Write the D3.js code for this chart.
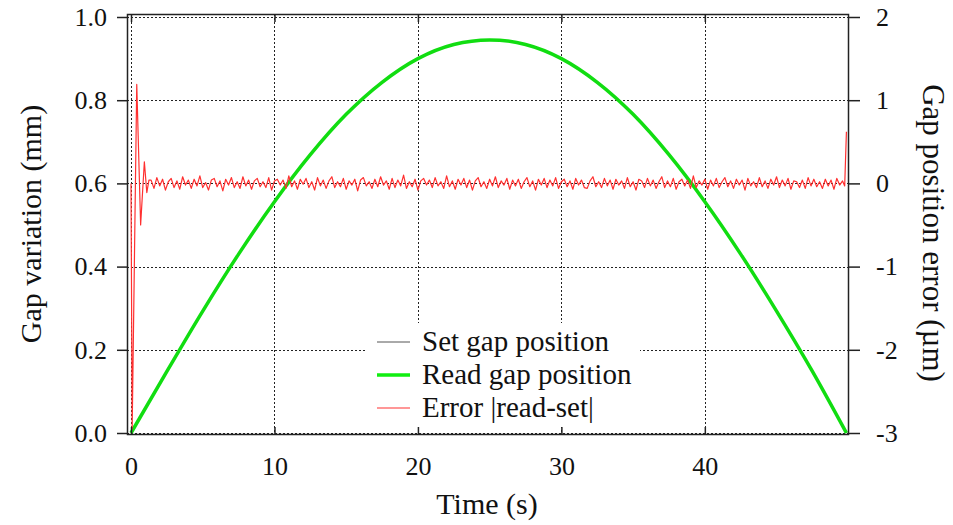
<!DOCTYPE html>
<html>
<head>
<meta charset="utf-8">
<script src="https://cdn.jsdelivr.net/npm/d3@7"></script>
<style>
  body { margin: 0; background: #fff; }
  svg text { font-family: "Liberation Serif", "Times New Roman", Tinos, "DejaVu Serif", "Noto Serif", serif; fill: #111; }
</style>
</head>
<body>
<div class="container"></div>
<script>
// gap position (s, mm)
var gapTime = [0, 2.5, 5, 7.5, 10, 12.5, 15, 17.5, 20, 22.5, 25, 27.5, 30, 32.5, 35, 37.5, 40, 42.5, 45, 47.5, 49.87];
var setGap  = [0, 0.148, 0.293, 0.430, 0.556, 0.669, 0.766, 0.843, 0.900, 0.934, 0.945, 0.934, 0.900, 0.843, 0.766, 0.669, 0.556, 0.430, 0.293, 0.148, 0];
var readGap = [0, 0.148, 0.293, 0.430, 0.556, 0.669, 0.766, 0.843, 0.900, 0.934, 0.945, 0.934, 0.900, 0.843, 0.766, 0.669, 0.556, 0.430, 0.293, 0.148, 0];

// error (µm): start-up transient, then the ripple sampled every 0.2 s from 1.4 s, then the end jump
var errStart = [[0, 0], [0.08, -2.95], [0.4, 1.19], [0.67, -0.5], [0.93, 0.26], [1.1, -0.11], [1.25, 0.04]];
var errT0 = 1.4, errStep = 0.2;
var errRipple = [
  0.04,-0.06,0.07,-0.03,0.05,-0.08,0.02,0.06,-0.05,0.03,
  -0.07,0.08,-0.02,0.04,-0.06,0.05,-0.03,0.09,-0.05,0.01,
  -0.08,0.04,0.06,-0.04,0.03,-0.09,0.05,-0.02,0.07,-0.05,
  0.02,-0.06,0.08,-0.03,0.04,-0.07,0.03,0.06,-0.04,0.02,
  -0.05,0.07,-0.08,0.03,0.05,-0.02,0.04,-0.06,0.09,-0.04,
  0.03,-0.07,0.05,-0.01,0.06,-0.05,0.02,-0.08,0.07,-0.03,
  0.04,-0.06,0.03,0.08,-0.05,0.02,-0.04,0.06,-0.07,0.03,
  -0.02,0.05,-0.09,0.04,0.07,-0.03,0.02,-0.06,0.05,-0.04,
  0.08,-0.02,0.03,-0.07,0.06,-0.05,0.04,-0.03,0.10,-0.06,
  0.02,-0.04,0.05,-0.08,0.03,0.06,-0.02,0.04,-0.05,0.07,
  -0.03,0.02,-0.06,0.09,-0.04,0.03,-0.07,0.05,-0.02,0.06,
  -0.05,0.04,-0.08,0.03,0.07,-0.04,0.02,-0.06,0.05,-0.03,
  0.08,-0.05,0.03,-0.02,0.06,-0.07,0.04,-0.03,0.05,-0.06,
  0.02,0.07,-0.04,0.03,-0.08,0.05,-0.02,0.06,-0.05,0.04,
  -0.03,0.07,-0.06,0.02,0.05,-0.04,0.03,-0.07,0.06,-0.02,
  0.04,-0.05,-0.06,0.03,0.08,-0.04,0.02,-0.05,0.06,-0.03,
  0.04,-0.07,0.05,-0.02,0.03,-0.06,0.07,-0.04,0.02,-0.08,
  0.05,0.03,-0.05,0.06,-0.03,0.04,-0.06,0.02,0.08,-0.05,
  0.03,-0.04,0.06,-0.07,0.02,0.05,-0.03,0.04,-0.06,0.09,
  -0.05,0.03,-0.02,0.05,-0.07,0.04,-0.03,0.06,-0.05,0.02,
  0.07,-0.04,0.03,-0.06,0.05,-0.02,0.04,-0.08,0.06,-0.03,
  0.02,-0.05,0.07,-0.04,0.03,-0.06,0.05,-0.02,0.08,-0.05,
  0.04,-0.03,0.06,-0.07,0.03,0.02,-0.05,0.04,-0.06,0.07,
  -0.03,0.05,-0.04,0.02,-0.06,0.05,-0.03,0.04,-0.07,0.06,
  -0.02,0.03
];
var errEnd = [[49.75, -0.03], [49.87, 0.62]];

var timeTicks = [0, 10, 20, 30, 40];
var gapTicks = [0, 0.2, 0.4, 0.6, 0.8, 1.0];
var errTicks = [-3, -2, -1, 0, 1, 2];
var legendItems = ["Set gap position", "Read gap position", "Error |read-set|"];

var W = 953, H = 525;
var L = 127, R = 849, T = 14, B = 435;
var serif = "'Liberation Serif', 'Times New Roman', Tinos, 'DejaVu Serif', 'Noto Serif', serif";

var svg = d3.select(".container").append("svg")
  .attr("width", W).attr("height", H);

var x = d3.scaleLinear().domain([-0.28, 50.05]).range([L, R]);
var yL = d3.scaleLinear().domain([0, 1]).range([433, 17]);
var yR = d3.scaleLinear().domain([-3, 2]).range([433, 17]);

// grid
var grid = svg.append("g")
  .attr("stroke", "#222").attr("stroke-width", 1).attr("stroke-dasharray", "2,2");
grid.selectAll(".vg").data(timeTicks).enter().append("line")
  .attr("x1", function(d) { return Math.round(x(d)) + 0.5; })
  .attr("x2", function(d) { return Math.round(x(d)) + 0.5; })
  .attr("y1", T).attr("y2", B);
grid.selectAll(".hg").data(gapTicks).enter().append("line")
  .attr("x1", L).attr("x2", R)
  .attr("y1", function(d) { return Math.round(yL(d)) + 0.5; })
  .attr("y2", function(d) { return Math.round(yL(d)) + 0.5; });

// error series
var errData = errStart.slice();
errRipple.forEach(function(v, i) { errData.push([errT0 + i * errStep, v]); });
errData = errData.concat(errEnd);

var gapData = gapTime.map(function(t, i) { return { t: t, set: setGap[i], read: readGap[i] }; });

svg.append("clipPath").attr("id", "plotclip").append("rect")
  .attr("x", L).attr("y", T).attr("width", R - L).attr("height", B - T);

var plot = svg.append("g").attr("clip-path", "url(#plotclip)");

// set position sits underneath the read position
plot.append("path").datum(gapData)
  .attr("fill", "none").attr("stroke", "#333").attr("stroke-width", 1)
  .attr("d", d3.line().curve(d3.curveMonotoneX)
    .x(function(d) { return x(d.t); }).y(function(d) { return yL(d.set); }));

plot.append("path").datum(gapData)
  .attr("fill", "none").attr("stroke", "#11dd11").attr("stroke-width", 3.5)
  .attr("d", d3.line().curve(d3.curveMonotoneX)
    .x(function(d) { return x(d.t); }).y(function(d) { return yL(d.read); }));

plot.append("path").datum(errData)
  .attr("fill", "none").attr("stroke", "#ff3030").attr("stroke-width", 1.2)
  .attr("stroke-linejoin", "round")
  .attr("d", d3.line()
    .x(function(d) { return x(d[0]); }).y(function(d) { return yR(d[1]); }));

// legend
svg.append("rect").attr("x", 366).attr("y", 323).attr("width", 274).attr("height", 104).attr("fill", "#fff");
var leg = svg.append("g").selectAll("g").data(legendItems).enter().append("g")
  .attr("transform", function(d, i) { return "translate(0," + (342 + i * 33) + ")"; });
leg.append("line").attr("x1", 377).attr("x2", 410).attr("y1", 0).attr("y2", 0)
  .attr("stroke", function(d, i) { return ["#555", "#11ee11", "#ff3030"][i]; })
  .attr("stroke-width", function(d, i) { return [1, 3.5, 1.2][i]; });
leg.append("text").attr("x", 422).attr("y", 9).attr("font-size", 29).text(function(d) { return d; });

// frame
svg.append("rect").attr("x", L + 0.5).attr("y", T + 0.5).attr("width", R - L - 1).attr("height", B - T - 1)
  .attr("fill", "none").attr("stroke", "#222").attr("stroke-width", 1.5);

// axes
var axL = svg.append("g").attr("transform", "translate(" + L + ",0)")
  .call(d3.axisLeft(yL).tickValues(gapTicks).tickSize(10).tickPadding(10).tickFormat(d3.format(".1f")));
var axR = svg.append("g").attr("transform", "translate(" + R + ",0)")
  .call(d3.axisRight(yR).tickValues(errTicks).tickSize(11).tickPadding(16).tickFormat(function(d) { return String(d); }));
var axB = svg.append("g").attr("transform", "translate(0," + B + ")")
  .call(d3.axisBottom(x).tickValues(timeTicks).tickSize(-8).tickPadding(22).tickFormat(function(d) { return String(d); }));
var axT = svg.append("g").attr("transform", "translate(0," + T + ")")
  .call(d3.axisTop(x).tickValues(timeTicks).tickSize(-8).tickFormat(""));

[axL, axR, axB, axT].forEach(function(a) {
  a.attr("font-family", serif);
  a.select(".domain").remove();
  a.selectAll(".tick line").attr("stroke", "#222").attr("stroke-width", 1.5);
  a.selectAll(".tick text").attr("font-size", 26).attr("fill", "#111");
});
axB.selectAll(".tick text").attr("dy", "0.71em");

// titles
svg.append("text").attr("x", 487).attr("y", 514).attr("text-anchor", "middle")
  .attr("font-size", 30).text("Time (s)");
svg.append("text").attr("transform", "translate(41,224) rotate(-90)").attr("text-anchor", "middle")
  .attr("font-size", 30).text("Gap variation (mm)");
svg.append("text").attr("transform", "translate(923,233) rotate(90)").attr("text-anchor", "middle")
  .attr("font-size", 31).text("Gap position error (µm)");
</script>
</body>
</html>
